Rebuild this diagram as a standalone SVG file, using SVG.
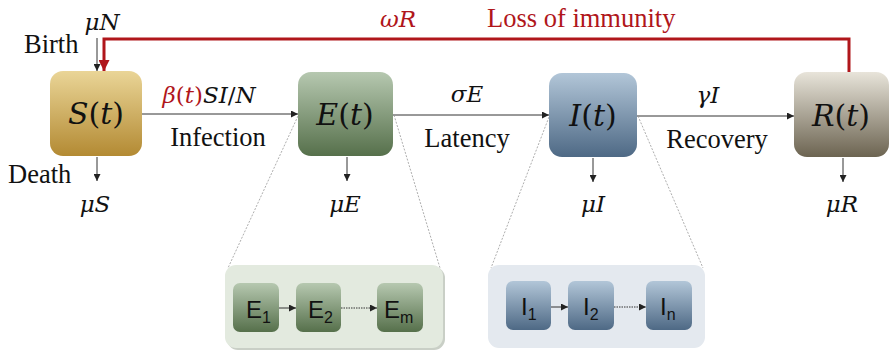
<svg xmlns="http://www.w3.org/2000/svg" width="890" height="354" viewBox="0 0 890 354">
<defs>
<linearGradient id="gS" x1="0" y1="0" x2="0" y2="1"><stop offset="0" stop-color="#ead597"/><stop offset="1" stop-color="#b38a33"/></linearGradient>
<linearGradient id="gE" x1="0" y1="0" x2="0" y2="1"><stop offset="0" stop-color="#b6c8b0"/><stop offset="1" stop-color="#56704b"/></linearGradient>
<linearGradient id="gI" x1="0" y1="0" x2="0" y2="1"><stop offset="0" stop-color="#b2c6d8"/><stop offset="1" stop-color="#4e6985"/></linearGradient>
<linearGradient id="gR" x1="0" y1="0" x2="0" y2="1"><stop offset="0" stop-color="#e8e4da"/><stop offset="1" stop-color="#6c6451"/></linearGradient>
<marker id="ah" viewBox="0 0 10 10" refX="10" refY="5" markerWidth="7" markerHeight="7" markerUnits="userSpaceOnUse" orient="auto"><path d="M0,0 L10,5 L0,10 z" fill="#222"/></marker>
<marker id="ahr" viewBox="0 0 10 10" refX="10" refY="5" markerWidth="12" markerHeight="11" markerUnits="userSpaceOnUse" orient="auto"><path d="M0,0 L10,5 L0,10 z" fill="#b0161b"/></marker>
</defs>
<style>
.lbl{font-family:"Liberation Serif",serif;font-size:26.5px;fill:#111}
.m{font-family:"DejaVu Serif",serif;font-style:italic;font-size:23px;fill:#111}
.up{font-style:normal}
.big{font-family:"DejaVu Serif",serif;font-style:italic;font-size:30px;fill:#111}
.red{fill:#b0161b}
.sm{font-family:"Liberation Sans",Arial,sans-serif;font-size:24px;fill:#111}
.sub{font-size:16px}
.ln{stroke:#333;stroke-width:1;fill:none}
.zoom{stroke:#999;stroke-width:0.8;stroke-dasharray:2 1.5;fill:none}
</style>

<g id="connectors">
<line class="ln" x1="142" y1="114" x2="298" y2="114" marker-end="url(#ah)"/>
<line class="ln" x1="393" y1="115" x2="549" y2="115" marker-end="url(#ah)"/>
<line class="ln" x1="637" y1="116" x2="794" y2="116" marker-end="url(#ah)"/>
<line class="ln" x1="97" y1="38" x2="97" y2="71" marker-end="url(#ah)"/>
<line class="ln" x1="97" y1="157" x2="97" y2="181" marker-end="url(#ah)"/>
<line class="ln" x1="347" y1="157" x2="347" y2="181" marker-end="url(#ah)"/>
<line class="ln" x1="593" y1="158" x2="593" y2="182" marker-end="url(#ah)"/>
<line class="ln" x1="843" y1="158" x2="843" y2="182" marker-end="url(#ah)"/>
<path d="M849,72 V39 H104 V71" stroke="#b0161b" stroke-width="3" fill="none" marker-end="url(#ahr)"/>
<line class="zoom" x1="298" y1="116" x2="228" y2="268"/>
<line class="zoom" x1="394" y1="115" x2="440" y2="268"/>
<line class="zoom" x1="549" y1="117" x2="491" y2="268"/>
<line class="zoom" x1="638" y1="116" x2="703" y2="268"/>
</g>

<g id="S">
<rect x="50" y="71" width="92" height="85" rx="13" fill="url(#gS)"/>
<text class="big" x="96" y="124" text-anchor="middle">S<tspan class="up">(</tspan>t<tspan class="up">)</tspan></text>
</g>
<g id="E">
<rect x="298" y="72" width="95" height="84" rx="13" fill="url(#gE)"/>
<text class="big" x="345" y="125" text-anchor="middle">E<tspan class="up">(</tspan>t<tspan class="up">)</tspan></text>
</g>
<g id="I">
<rect x="549" y="73" width="88" height="84" rx="13" fill="url(#gI)"/>
<text class="big" x="593" y="126" text-anchor="middle">I<tspan class="up">(</tspan>t<tspan class="up">)</tspan></text>
</g>
<g id="R">
<rect x="794" y="72" width="95" height="85" rx="13" fill="url(#gR)"/>
<text class="big" x="841" y="126" text-anchor="middle">R<tspan class="up">(</tspan>t<tspan class="up">)</tspan></text>
</g>

<g id="labels">
<text class="m" x="102" y="30" text-anchor="middle">μN</text>
<text class="lbl" x="24" y="53">Birth</text>
<text class="lbl" x="8" y="183">Death</text>
<text class="m" x="95" y="212" text-anchor="middle">μS</text>
<text class="m" x="345" y="212" text-anchor="middle">μE</text>
<text class="m" x="593" y="212" text-anchor="middle">μI</text>
<text class="m" x="842" y="212" text-anchor="middle">μR</text>
<text class="m" x="209" y="103" text-anchor="middle"><tspan class="red">β<tspan class="up">(</tspan>t<tspan class="up">)</tspan></tspan>SI<tspan class="up">/</tspan>N</text>
<text class="lbl" x="218" y="146" text-anchor="middle">Infection</text>
<text class="m" x="467" y="102" text-anchor="middle">σE</text>
<text class="lbl" x="467" y="147" text-anchor="middle">Latency</text>
<text class="m" x="708" y="103" text-anchor="middle">γI</text>
<text class="lbl" x="717" y="148" text-anchor="middle">Recovery</text>
<text class="m red" x="398" y="27" text-anchor="middle">ωR</text>
<text class="lbl red" x="487" y="27">Loss of immunity</text>
</g>

<g id="Egroup">
<rect x="227" y="267" width="218" height="83" rx="11" fill="#c9cfc6"/>
<rect x="225" y="265" width="218" height="83" rx="11" fill="#e3eadf"/>
<line class="ln" x1="279" y1="308" x2="296" y2="308" marker-end="url(#ah)"/>
<line class="ln" x1="341" y1="308" x2="377" y2="308" stroke-dasharray="1.5 1" marker-end="url(#ah)"/>
<g id="E1"><rect x="233" y="283" width="46" height="49" rx="7" fill="url(#gE)"/><text class="sm" x="246" y="318">E<tspan class="sub" dy="5">1</tspan></text></g>
<g id="E2"><rect x="296" y="283" width="45" height="49" rx="7" fill="url(#gE)"/><text class="sm" x="308" y="318">E<tspan class="sub" dy="5">2</tspan></text></g>
<g id="Em"><rect x="377" y="283" width="46" height="49" rx="7" fill="url(#gE)"/><text class="sm" x="384" y="318">E<tspan class="sub" dy="5">m</tspan></text></g>
</g>

<g id="Igroup">
<rect x="488" y="265" width="217" height="83" rx="11" fill="#e4e9ef"/>
<line class="ln" x1="551" y1="307" x2="568" y2="307" marker-end="url(#ah)"/>
<line class="ln" x1="614" y1="307" x2="646" y2="307" stroke-dasharray="1.5 1" marker-end="url(#ah)"/>
<g id="I1"><rect x="506" y="281" width="45" height="49" rx="7" fill="url(#gI)"/><text class="sm" x="521" y="315">I<tspan class="sub" dy="5">1</tspan></text></g>
<g id="I2"><rect x="568" y="281" width="46" height="49" rx="7" fill="url(#gI)"/><text class="sm" x="583" y="315">I<tspan class="sub" dy="5">2</tspan></text></g>
<g id="In"><rect x="646" y="281" width="46" height="49" rx="7" fill="url(#gI)"/><text class="sm" x="660" y="315">I<tspan class="sub" dy="5">n</tspan></text></g>
</g>
</svg>
